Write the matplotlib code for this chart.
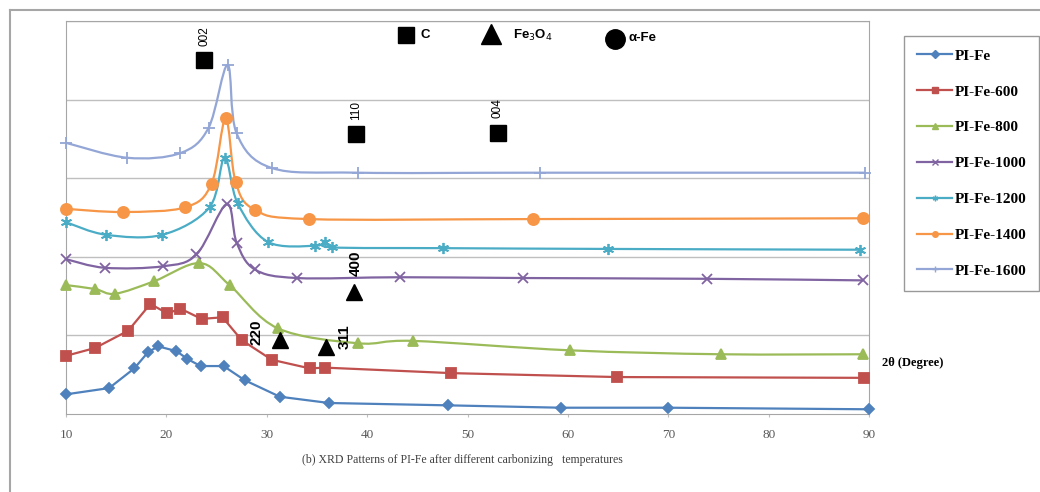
import numpy as np
import matplotlib
matplotlib.use("Agg")
from matplotlib import pyplot as plt
from matplotlib.path import Path
from matplotlib.patches import PathPatch
from matplotlib.lines import Line2D

# 2theta positions and (offset) intensities
x_fe = [10, 14.3, 16.8, 18.2, 19.2, 21.0, 22.1, 23.4, 25.7, 27.8, 31.3, 36.2, 48.1, 59.3, 70.0, 90.0]
y_fe = [25, 33, 58, 79, 86, 80, 70, 61, 61, 43, 22, 14, 11, 8, 8, 6]

x_600 = [10, 12.9, 16.2, 18.4, 20.1, 21.4, 23.5, 25.6, 27.5, 30.5, 34.3, 35.8, 48.4, 64.9, 89.5]
y_600 = [74, 84, 106, 140, 128, 134, 121, 123, 94, 69, 58, 59, 52, 47, 46]

x_800 = [10, 12.9, 14.9, 18.8, 23.3, 26.3, 31.1, 39.1, 44.6, 60.2, 75.3, 89.4]
y_800 = [164, 159, 153, 169, 192, 164, 109, 90, 93, 81, 76, 76]

x_1000 = [10, 13.9, 19.7, 23.0, 26.0, 27.0, 28.8, 33.0, 43.3, 55.5, 73.9, 89.4]
y_1000 = [197, 186, 188, 203, 267, 218, 184, 173, 174, 173, 172, 170]

x_1200 = [10, 14.0, 19.6, 24.3, 25.8, 27.1, 30.1, 34.8, 35.8, 36.5, 47.6, 64.0, 89.1]
y_1200 = [244, 228, 228, 263, 326, 268, 219, 214, 219, 212, 211, 210, 209]

x_1400 = [10, 15.7, 21.9, 24.5, 25.9, 26.9, 28.8, 34.2, 56.5, 89.4]
y_1400 = [261, 257, 263, 293, 376, 295, 260, 248, 248, 249]

x_1600 = [10, 16.1, 21.4, 24.2, 26.1, 27.0, 30.5, 39.1, 57.2, 89.6]
y_1600 = [345, 326, 332, 364, 444, 357, 313, 307, 307, 307]

names = ["PI-Fe", "PI-Fe-600", "PI-Fe-800", "PI-Fe-1000", "PI-Fe-1200", "PI-Fe-1400", "PI-Fe-1600"]
xs = [x_fe, x_600, x_800, x_1000, x_1200, x_1400, x_1600]
ys = [y_fe, y_600, y_800, y_1000, y_1200, y_1400, y_1600]
colors = ["#4F81BD", "#C0504D", "#9BBB59", "#8064A2", "#4BACC6", "#F79646", "#93A6D6"]
markers = ["D", "s", "^", "x", (6, 2, 0), "o", "+"]
msizes = [5.5, 7.5, 7, 7, 8, 8, 8]
smooth = [False, False, True, True, True, True, True]

# peak labels: (label, 2theta, y, kind)
peaks = [("002", 23.75, 450, "s"), ("110", 38.9, 356, "s"), ("004", 53.0, 358, "s"),
         ("220", 31.3, 94, "^"), ("311", 35.9, 85, "^"), ("400", 38.7, 155, "^")]


def smooth_path(x, y):
    # excel style smoothed line: bezier through the points
    p = np.column_stack([x, y]).astype(float)
    verts = [p[0]]
    codes = [Path.MOVETO]
    n = len(p)
    for i in range(n - 1):
        p0 = p[i - 1] if i > 0 else p[i]
        p3 = p[i + 2] if i + 2 < n else p[i + 1]
        c1 = p[i] + (p[i + 1] - p0) / 6.0
        c2 = p[i + 1] - (p3 - p[i]) / 6.0
        verts += [c1, c2, p[i + 1]]
        codes += [Path.CURVE4] * 3
    return Path(verts, codes)


fig = plt.figure(figsize=(10.4, 4.92), dpi=100)
ax = fig.add_axes([66 / 1040, 1 - 414 / 492, (869 - 66) / 1040, (414 - 21) / 492])

handles = []
for x, y, c, m, ms, sm, nm in zip(xs, ys, colors, markers, msizes, smooth, names):
    if sm:
        ax.add_patch(PathPatch(smooth_path(x, y), fill=False, edgecolor=c, lw=1.6, zorder=3))
    else:
        ax.plot(x, y, color=c, lw=1.6, zorder=3)
    ax.plot(x, y, ls="none", marker=m, ms=ms, color=c, mec=c, mew=1.3, zorder=4, clip_on=False)
    handles.append(Line2D([], [], color=c, lw=1.6, marker=m, ms=4, mew=1, label=nm))

ax.set_xlim(10, 90)
ax.set_ylim(0, 500)
ax.set_xticks(range(10, 91, 10))
ax.set_yticks([100, 200, 300, 400, 500])
ax.set_yticklabels([])
ax.grid(axis="y", color="#BFBFBF", lw=1)
ax.tick_params(axis="y", length=0)
ax.tick_params(axis="x", length=2, color="#BFBFBF", pad=9, labelsize=9.5, labelcolor="#595959")
for t in ax.get_xticklabels():
    t.set_family("Liberation Serif")
for s in ["left", "bottom", "right", "top"]:
    ax.spines[s].set_color("#A6A6A6")

for lab, px, py, kind in peaks:
    ax.plot(px, py, marker=kind, ms=11 if kind == "s" else 12, color="black", ls="none", zorder=6)
    if kind == "s":
        ax.text(px, py + 18, lab, rotation=90, ha="center", va="bottom", fontsize=8.5,
                family="Liberation Sans", zorder=6)
# triangle labels sit to the side
ax.text(29.0, 104, "220", rotation=90, ha="center", va="center", fontsize=11, fontweight="bold",
        family="Liberation Sans", zorder=6)
ax.text(37.8, 98, "311", rotation=90, ha="center", va="center", fontsize=11, fontweight="bold",
        family="Liberation Sans", zorder=6)
ax.text(38.9, 192, "400", rotation=90, ha="center", va="center", fontsize=11, fontweight="bold",
        family="Liberation Sans", zorder=6)

# phase key at the top
ax.plot(43.9, 482, marker="s", ms=11, color="black", clip_on=False)
ax.text(45.3, 482, "C", fontsize=9.5, fontweight="bold", va="center", family="Liberation Sans")
ax.plot(52.3, 484, marker="^", ms=14, color="black", clip_on=False)
ax.text(54.5, 482, "Fe$_3$O$_4$", fontsize=9.5, fontweight="bold", va="center", family="Liberation Sans")
ax.plot(64.7, 477, marker="o", ms=14, color="black", clip_on=False)
ax.text(66.0, 478, "α-Fe", fontsize=9.5, fontweight="bold", va="center", family="Liberation Sans")

leg = fig.legend(handles=handles, loc="upper left", bbox_to_anchor=(904 / 1040, 1 - 36 / 492),
                 borderaxespad=0, fancybox=False, edgecolor="#808080", handlelength=2.3,
                 labelspacing=1.45, borderpad=0.85, handletextpad=0.15,
                 prop={"family": "Liberation Serif", "weight": "bold", "size": 11})
leg.get_frame().set_linewidth(1.0)

fig.text(882 / 1040, 1 - 363 / 492, "2θ (Degree)", fontsize=9, fontweight="bold",
         family="Liberation Serif", va="center")
fig.text(462 / 1040, 1 - 460 / 492, "(b) XRD Patterns of PI-Fe after different carbonizing   temperatures",
         fontsize=8.5, family="Liberation Serif", color="#404040", ha="center", va="center")

# outer frame
fig.add_artist(Line2D([10 / 1040, 10 / 1040], [0, 1 - 10 / 492], color="#A6A6A6", lw=1.5))
fig.add_artist(Line2D([10 / 1040, 1], [1 - 10 / 492, 1 - 10 / 492], color="#A6A6A6", lw=1.5))

fig.savefig("out.png", dpi=100)
